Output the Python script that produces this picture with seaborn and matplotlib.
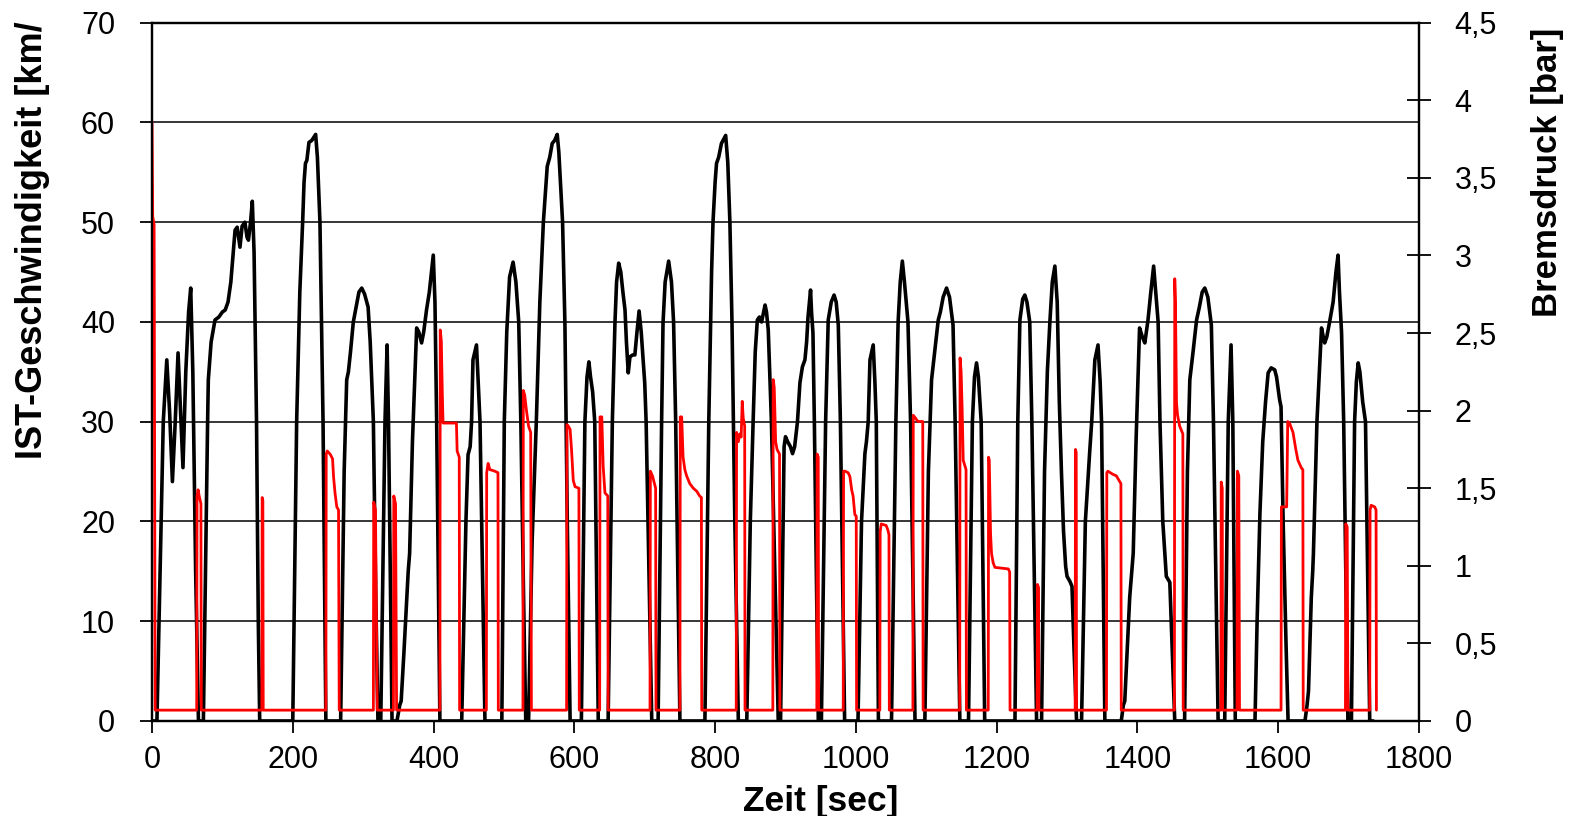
import matplotlib
matplotlib.use("Agg")
import matplotlib.pyplot as plt
import seaborn as sns
import pandas as pd
from matplotlib.ticker import FuncFormatter

# ---------------- data ----------------
# vehicle speed trace: (time [s], speed [km/h])
speed_trace = [
    (0, 0), (7, 0), (16, 30), (21, 36.2), (25, 31), (29, 24), (33, 30), (37, 36.9), (40, 32), (44, 25.4),
    (48, 35), (52, 41), (55, 43.4), (58, 35), (62, 15), (66, 0),
    (73, 0), (79, 30), (80, 34.2), (84, 38), (89.5, 40.2), (95, 40.5), (100, 41), (104, 41.2), (108, 42),
    (112, 44), (118, 49.2), (121, 49.5), (125, 47.5), (128, 49.6), (132, 50), (135, 48.5), (137, 48.2),
    (140, 50), (142.5, 52.1), (145, 47), (148.5, 30), (151, 10), (153, 0),
    (200, 0), (205.5, 30), (210, 43), (214, 50), (216, 54), (218, 55.9), (220, 56.2), (223, 58), (227, 58.2),
    (232.5, 58.8), (235, 56.5), (238.6, 50), (243, 30), (247, 0),
    (268, 0), (273, 25), (275, 30), (276.6, 34.2), (279, 35), (282, 37), (286, 40), (290, 41.5), (294, 43),
    (298, 43.4), (302, 42.8), (307, 41.5), (310, 38), (314.5, 30), (318, 12), (321, 0),
    (325, 0), (331, 30), (334, 37.7), (336, 30), (341, 0),
    (348, 0), (352, 1.6), (354, 2), (358, 7), (362, 12.4), (364, 15), (366, 16.8), (370, 28), (376, 39.4),
    (379, 39), (383, 37.9), (386, 39), (390, 41.2), (394, 43), (397, 45), (399.6, 46.7), (402, 42),
    (404.4, 30), (409, 0),
    (440, 0), (446, 20), (449, 26.7), (452, 27.5), (454, 30), (456, 36.2), (461, 37.7), (464, 33), (466, 30),
    (473, 0),
    (497, 0), (500.5, 30), (504, 39), (508, 44.5), (513, 46), (517, 44), (521, 40), (524, 30), (528, 12),
    (531, 0),
    (535, 0), (540, 18), (546, 30), (551, 42), (556, 50), (561.5, 55.6), (565, 56.5), (568.6, 57.9),
    (572, 58.2), (575.7, 58.8), (578, 57), (583.3, 50), (586.6, 39.9), (590, 20), (594, 0),
    (610, 0), (615, 30), (618, 34.5), (620.7, 36), (623, 34.5), (626, 33), (629, 30), (634, 0),
    (648, 0), (654, 30), (657.7, 39.9), (660, 44), (663, 45.9), (666, 45), (669, 43), (672, 41.2), (674, 38),
    (676.6, 34.9), (679, 36.5), (683, 36.7), (686, 36.7), (689, 39), (692, 41.1), (695, 39), (700, 33.9),
    (702, 30), (710, 0),
    (719, 0), (724, 30), (726, 39.9), (729, 44), (734, 46.1), (738, 44), (741, 40), (744, 30), (750, 0),
    (785.5, 0), (791, 30), (795, 45), (797, 50), (800, 54), (802, 55.9), (805, 56.5), (809, 57.9),
    (812, 58.3), (815, 58.7), (818, 56), (821, 50), (824, 39.9), (828, 20), (833, 0),
    (845, 0), (850, 20), (854, 30), (857, 37), (860, 40.2), (863, 40.5), (866, 40), (869, 41), (871, 41.7),
    (873, 41), (875.5, 39.2), (880, 30), (889.7, 0),
    (893, 0), (898, 27.5), (900, 28.5), (903, 28), (907, 27.5), (910, 26.8), (913, 27.5), (917, 30),
    (920.5, 33.9), (924, 35.5), (927.6, 36.2), (930, 38), (932, 40.5), (935.6, 43.2), (937, 41),
    (939, 38.9), (941, 30), (946.6, 0),
    (951, 0), (957, 30), (960.7, 40.2), (965, 42), (969, 42.7), (972, 42), (975, 39.7), (978, 30), (984, 0),
    (1003, 0), (1008, 20), (1012.8, 26.8), (1015, 28), (1017.5, 30), (1020, 36.2), (1024.6, 37.7),
    (1027, 34), (1029, 30), (1032, 0),
    (1050.6, 0), (1056.8, 30), (1060, 40), (1063, 44), (1066, 46.1), (1069, 44), (1074, 40), (1077.7, 30),
    (1084, 0),
    (1098, 0), (1103, 25), (1107.5, 34.2), (1112, 37), (1117, 40.2), (1120, 41), (1124, 42.5),
    (1128.8, 43.4), (1133, 42.5), (1138, 39.7), (1141, 30), (1147.7, 0),
    (1160, 0), (1165.5, 30), (1168.5, 34.5), (1171.4, 35.9), (1174, 34.5), (1178, 30), (1183, 0),
    (1226, 0), (1230, 30), (1233, 40.2), (1237, 42.3), (1240, 42.7), (1243, 42), (1247, 40), (1250, 30),
    (1256.7, 0),
    (1263.8, 0), (1268, 25), (1272, 35), (1275.6, 40), (1279, 44), (1282.7, 45.6), (1286, 42), (1289, 32),
    (1292, 25), (1295, 19), (1298, 15.5), (1300, 14.5), (1304, 14), (1307, 13.5), (1310, 7), (1313.5, 0),
    (1320.6, 0), (1326, 20), (1332, 26.8), (1335, 30), (1339.5, 36.2), (1344, 37.7), (1347, 34),
    (1349, 30), (1353.7, 0),
    (1377, 0), (1380, 1.6), (1382, 2), (1386, 8), (1389, 12.4), (1392, 15), (1394, 16.8), (1398, 28),
    (1403, 39.4), (1407, 38.5), (1410.5, 37.9), (1415, 40.2), (1419, 43), (1423, 45.6), (1426, 43),
    (1429.4, 40), (1432, 30), (1436, 20), (1441, 14.5), (1446, 13.9), (1450, 6), (1453, 0),
    (1467, 0), (1471, 25), (1474.4, 34.2), (1479, 37), (1484, 40.2), (1488, 41.5), (1492, 43),
    (1495.7, 43.4), (1500, 42.5), (1505, 39.7), (1508, 30), (1514.6, 0),
    (1524, 0), (1529, 30), (1533, 37.7), (1535.5, 30), (1539, 0),
    (1567, 0), (1570, 10), (1574, 20.8), (1578, 28), (1582, 32), (1585.7, 34.9), (1590, 35.4), (1595, 35.2),
    (1597.6, 34.5), (1602, 32.2), (1604, 31.5), (1607, 20), (1611, 8), (1614, 0),
    (1638, 0), (1641, 1.6), (1643, 3), (1647, 12.4), (1649, 15), (1650, 16.8), (1655, 30), (1661.5, 39.4),
    (1664, 38.5), (1666, 37.9), (1669, 38.5), (1673, 40), (1678, 42), (1682, 45), (1685, 46.7), (1687, 43),
    (1690, 38.9), (1693, 30), (1699, 0),
    (1704, 0), (1708.5, 30), (1711, 34), (1713.6, 35.9), (1716, 35), (1720, 32), (1724, 30), (1730, 0),
    (1735, 0),
]

# brake pressure trace: (time [s], pressure [bar])
brake_trace = [
    (0, 3.86), (1, 3.25), (3, 3.2), (4.5, 0.07),
    (63.5, 0.07), (64, 1.45), (65.5, 1.49), (67, 1.45), (69.5, 1.4), (70, 0.07),
    (156, 0.07), (156.5, 1.44), (157.5, 1.42), (158, 0.07),
    (247, 0.07), (247.5, 1.72), (249, 1.74), (253, 1.72), (256.5, 1.69), (258, 1.57), (260, 1.47),
    (262.5, 1.38), (265, 1.36), (266, 0.07),
    (314.5, 0.07), (315, 1.41), (317.5, 1.36), (320, 0.07),
    (343, 0.07), (343.5, 1.45), (346, 1.4), (347.5, 0.07),
    (409, 0.07), (409.5, 2.52), (411, 2.45), (412.5, 2.1), (413.5, 1.92), (432.5, 1.92), (433.5, 1.74),
    (436.5, 1.7), (437, 0.07),
    (475, 0.07), (475.5, 1.6), (477.5, 1.66), (480, 1.62), (487, 1.61), (491.5, 1.6), (492, 0.07),
    (527, 0.07), (527.5, 2.13), (529.5, 2.1), (532, 2.0), (535, 1.9), (538, 1.86), (539, 0.07),
    (589, 0.07), (589.5, 1.91), (591.5, 1.9), (594, 1.88), (596, 1.75), (598.5, 1.55), (601, 1.51),
    (606.5, 1.5), (607, 0.07),
    (636, 0.07), (636.5, 1.96), (639, 1.96), (641, 1.64), (643.5, 1.47), (647.5, 1.45), (648, 0.07),
    (707.5, 0.07), (708, 1.61), (711, 1.58), (715.5, 1.5), (716, 0.07),
    (750, 0.07), (750.5, 1.96), (752.5, 1.96), (754.5, 1.7), (757, 1.62), (759.5, 1.58), (764, 1.53),
    (769, 1.5), (774, 1.48), (778, 1.45), (780.5, 1.44), (781, 0.07),
    (830, 0.07), (830.5, 1.86), (833, 1.8), (835, 1.85), (837, 1.83), (838.5, 2.06), (840, 1.95),
    (842, 1.9), (842.5, 0.07),
    (882, 0.07), (882.5, 2.2), (884, 2.15), (886, 1.8), (888, 1.75), (891.5, 1.72), (892, 0.07),
    (944.5, 0.07), (945, 1.72), (946.5, 1.7), (947, 0.07),
    (982, 0.07), (982.5, 1.61), (984.5, 1.61), (989, 1.6), (991.5, 1.575), (994, 1.49), (996, 1.45),
    (998.5, 1.33), (1000.5, 1.32), (1001, 0.07),
    (1034, 0.07), (1034.5, 1.22), (1036, 1.27), (1043, 1.26), (1045.5, 1.23), (1047, 1.2), (1047.5, 0.07),
    (1081, 0.07), (1081.5, 1.97), (1085, 1.95), (1088, 1.93), (1095, 1.93), (1095.5, 0.07),
    (1147.5, 0.07), (1148, 2.34), (1149.5, 2.25), (1151, 2.0), (1152.5, 1.68), (1156.5, 1.62),
    (1157, 0.07),
    (1188, 0.07), (1188.5, 1.7), (1189.5, 1.68), (1191.3, 1.21), (1192.7, 1.08), (1195, 1.02),
    (1197.5, 0.99), (1216.5, 0.98), (1218.5, 0.96), (1219, 0.07),
    (1257.5, 0.07), (1258, 0.88), (1259.5, 0.86), (1260, 0.07),
    (1311.5, 0.07), (1312, 1.75), (1313, 1.73), (1313.5, 0.07),
    (1356, 0.07), (1356.5, 1.6), (1358, 1.61), (1365, 1.59), (1370, 1.58), (1374, 1.55), (1376.5, 1.53),
    (1377, 0.07),
    (1452.5, 0.07), (1453, 2.85), (1454, 2.7), (1455.5, 2.05), (1457, 1.97), (1460, 1.9), (1464.5, 1.85),
    (1465, 0.07),
    (1518.5, 0.07), (1519, 1.54), (1520.5, 1.5), (1521, 0.07),
    (1541.5, 0.07), (1542, 1.61), (1544, 1.58), (1545, 0.07),
    (1604, 0.07), (1604.5, 1.38), (1612, 1.38), (1613.5, 1.93), (1616, 1.92), (1621, 1.86), (1625, 1.75),
    (1628, 1.68), (1633, 1.63), (1635, 1.62), (1635.5, 0.07),
    (1695.5, 0.07), (1696, 1.27), (1698, 1.25), (1699, 0.07),
    (1730, 0.07), (1730.5, 1.36), (1732, 1.39), (1737, 1.38), (1739, 1.36), (1739.5, 0.07),
]

x_ticks = [0, 200, 400, 600, 800, 1000, 1200, 1400, 1600, 1800]
speed_ticks = [0, 10, 20, 30, 40, 50, 60, 70]
pressure_ticks = [0, 0.5, 1, 1.5, 2, 2.5, 3, 3.5, 4, 4.5]

label_speed = "IST-Geschwindigkeit [km/"
label_time = "Zeit [sec]"
label_pressure = "Bremsdruck [bar]"

# ---------------- plotting ----------------
sns.set_theme(style="white")
plt.rcParams['font.family'] = ['Liberation Sans', 'DejaVu Sans']

W, H = 1573, 816
fig = plt.figure(figsize=(W / 100, H / 100), dpi=100)
fig.patch.set_facecolor("white")

left, right, top, bottom = 152, 1419, 22.7, 721
ax = fig.add_axes([left / W, 1 - bottom / H, (right - left) / W, (bottom - top) / H])

df_speed = pd.DataFrame(speed_trace, columns=["t", "v"])
df_brake = pd.DataFrame(brake_trace, columns=["t", "p"])

sns.lineplot(data=df_speed, x="t", y="v", ax=ax, color="black", linewidth=2.6,
             sort=False, estimator=None, legend=False)
ax.set_xlim(0, 1800)
ax.set_ylim(0, 70)
ax.set_xticks(x_ticks)
ax.set_yticks(speed_ticks)
ax.set_xlabel("")
ax.set_ylabel("")
ax.yaxis.grid(True, color="black", linewidth=1.1)
ax.xaxis.grid(False)
ax.set_axisbelow(True)
ax.tick_params(axis="both", which="both", direction="out", length=8.6, width=1.3,
               colors="black", labelsize=22, bottom=True, left=True, top=False, right=False)
ax.tick_params(axis="y", pad=18)
ax.tick_params(axis="x", pad=9)
for s in ax.spines.values():
    s.set_visible(True)
    s.set_color("black")
    s.set_linewidth(1.6)

ax2 = ax.twinx()
sns.lineplot(data=df_brake, x="t", y="p", ax=ax2, color="red", linewidth=2.0,
             sort=False, estimator=None, legend=False)
ax2.set_xlim(0, 1800)
ax2.set_ylim(0, 4.5)
ax2.set_yticks(pressure_ticks)
ax2.yaxis.set_major_formatter(FuncFormatter(lambda v, _: f"{v:g}".replace(".", ",")))
ax2.set_ylabel("")
ax2.set_xlabel("")
ax2.grid(False)
ax2.tick_params(axis="y", direction="inout", length=17, width=1.3, colors="black",
                labelsize=22, pad=17, right=True, left=False)
for s in ax2.spines.values():
    s.set_visible(True)
    s.set_color("black")
    s.set_linewidth(1.6)

fig.text(33 / W, 1 - 240 / H, label_speed, rotation=90, ha="center", va="center",
         fontsize=26, fontweight="bold", color="black")
fig.text(821 / W, 1 - 802 / H, label_time, ha="center", va="center",
         fontsize=25.5, fontweight="bold", color="black")
fig.text(1548 / W, 1 - 172 / H, label_pressure, rotation=90, ha="center", va="center",
         fontsize=25, fontweight="bold", color="black")

fig.savefig("out.png", dpi=100)
